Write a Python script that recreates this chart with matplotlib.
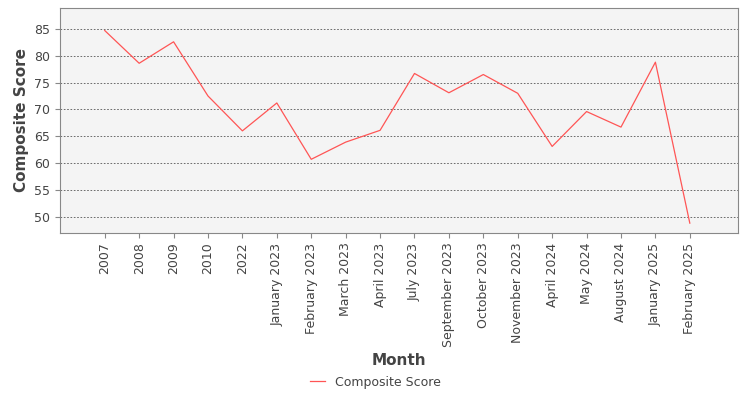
import matplotlib
matplotlib.use("Agg")
import matplotlib.pyplot as plt

months = ["2007","2008","2009","2010","2022","January 2023","February 2023","March 2023",
          "April 2023","July 2023","September 2023","October 2023","November 2023",
          "April 2024","May 2024","August 2024","January 2025","February 2025"]
scores = [84.7,78.6,82.6,72.5,66.0,71.2,60.7,63.9,66.1,76.7,73.1,76.5,73.0,63.1,69.6,66.7,78.8,48.8]

fig = plt.figure(figsize=(7.5,4.0), dpi=100)
ax = fig.add_axes([0.08, 0.418, 0.904, 0.562])
ax.set_facecolor("#f4f4f4")
x = list(range(len(months)))
ax.plot(x, scores, color="#ff5555", lw=0.9, label="Composite Score")
ax.set_xlim(-1.3, 18.4)
ax.set_ylim(47.0, 88.9)
ax.set_yticks(range(50, 90, 5))
ax.set_xticks(x)
ax.set_xticklabels(months, rotation=90, fontsize=9, color="#444444")
ax.tick_params(axis="y", labelsize=9, labelcolor="#444444")
ax.tick_params(color="#888888")
ax.yaxis.grid(True, linestyle=(0,(2,2)), color="#555555", lw=0.6)
for s in ax.spines.values():
    s.set_color("#888888")
ax.set_xlabel("Month", fontsize=11, fontweight="bold", color="#444444")
ax.set_ylabel("Composite Score", fontsize=11, fontweight="bold", color="#444444")
fig.legend(loc="lower center", bbox_to_anchor=(0.5, 0.0), frameon=False, fontsize=9,
           labelcolor="#444444", handlelength=1.2)
fig.savefig("out.png")
